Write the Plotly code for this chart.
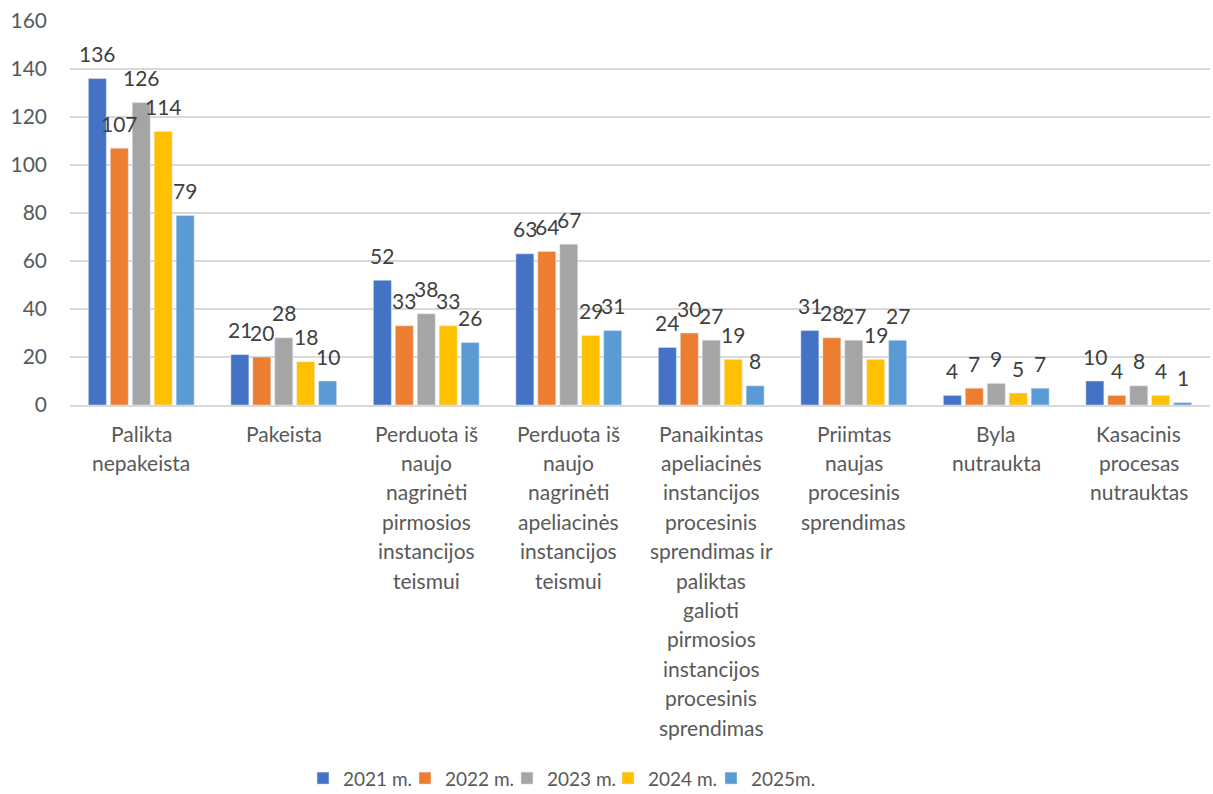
import plotly.graph_objects as go

categories = [
    "Palikta<br>nepakeista",
    "Pakeista",
    "Perduota iš<br>naujo<br>nagrinėti<br>pirmosios<br>instancijos<br>teismui",
    "Perduota iš<br>naujo<br>nagrinėti<br>apeliacinės<br>instancijos<br>teismui",
    "Panaikintas<br>apeliacinės<br>instancijos<br>procesinis<br>sprendimas ir<br>paliktas<br>galioti<br>pirmosios<br>instancijos<br>procesinis<br>sprendimas",
    "Priimtas<br>naujas<br>procesinis<br>sprendimas",
    "Byla<br>nutraukta",
    "Kasacinis<br>procesas<br>nutrauktas",
]
series_names = ["2021 m.", "2022 m.", "2023 m.", "2024 m.", "2025m."]
v2021 = [136, 21, 52, 63, 24, 31, 4, 10]
v2022 = [107, 20, 33, 64, 30, 28, 7, 4]
v2023 = [126, 28, 38, 67, 27, 27, 9, 8]
v2024 = [114, 18, 33, 29, 19, 19, 5, 4]
v2025 = [79, 10, 26, 31, 8, 27, 7, 1]
colors = ["#4472C4", "#ED7D31", "#A5A5A5", "#FFC000", "#5B9BD5"]

FONT = "Lato, Open Sans, sans-serif"
TXT = "#595959"
LBL = "#404040"
FS = 21
LEG_FS = 19

W, H = 1213, 794
ML, MR, MT, MB = 70, 3, 21, 389
BARGAP, GROUPGAP = 0.23, 0.18
plot_w = W - ML - MR
cat_w = plot_w / len(categories)
slot = cat_w * (1 - BARGAP) / len(series_names)

# legend entry anchor positions (px from left of page)
legend_px = [318, 420, 522, 623, 726]

all_vals = [v2021, v2022, v2023, v2024, v2025]

fig = go.Figure()
legend_layout = {}
for i, (name, vals, col) in enumerate(zip(series_names, all_vals, colors)):
    lname = "legend" if i == 0 else f"legend{i + 1}"
    fig.add_trace(go.Bar(x=categories, y=vals, name=name, marker_color=col, legend=lname))
    legend_layout[lname] = dict(
        orientation="h", x=(legend_px[i] - 15 - ML) / plot_w, xanchor="left",
        y=-0.972, yanchor="middle", itemwidth=30,
        font=dict(family=FONT, size=LEG_FS, color=TXT), bgcolor="rgba(0,0,0,0)",
    )

annotations = []
# data labels
for si, vals in enumerate(all_vals):
    off = (si - (len(series_names) - 1) / 2) * slot
    for cat, v in zip(categories, vals):
        annotations.append(dict(
            x=cat, y=v, xref="x", yref="y", text=str(v), showarrow=False,
            xanchor="center", yanchor="middle", xshift=off, yshift=25,
            font=dict(family=FONT, size=FS, color=LBL),
        ))
# category labels, one line at a time for Excel-like line spacing
LINE = 29.4
FIRST = 28
for cat in categories:
    for j, line in enumerate(cat.split("<br>")):
        annotations.append(dict(
            x=cat, y=0, xref="x", yref="y", text=line, showarrow=False,
            xanchor="center", yanchor="middle", yshift=-(FIRST + j * LINE),
            font=dict(family=FONT, size=FS, color=TXT),
        ))

fig.update_layout(
    width=W, height=H,
    barmode="group", bargap=BARGAP, bargroupgap=GROUPGAP,
    plot_bgcolor="white", paper_bgcolor="white",
    margin=dict(l=ML, r=MR, t=MT, b=MB, autoexpand=False),
    font=dict(family=FONT, size=FS, color=TXT),
    showlegend=True,
    xaxis=dict(showline=True, linecolor="#D9D9D9", linewidth=1.5, ticks="",
               showticklabels=False, automargin=False),
    yaxis=dict(range=[0, 160], dtick=20, showgrid=True, gridcolor="#D9D9D9", gridwidth=1.5,
               zeroline=False, showline=False, ticks="", automargin=False,
               tickfont=dict(family=FONT, size=FS, color=TXT), ticklabelstandoff=22),
    annotations=annotations,
    **legend_layout,
)
fig.write_html("out.html", config={"displayModeBar": False},
               post_script="document.body.style.margin='0';")
